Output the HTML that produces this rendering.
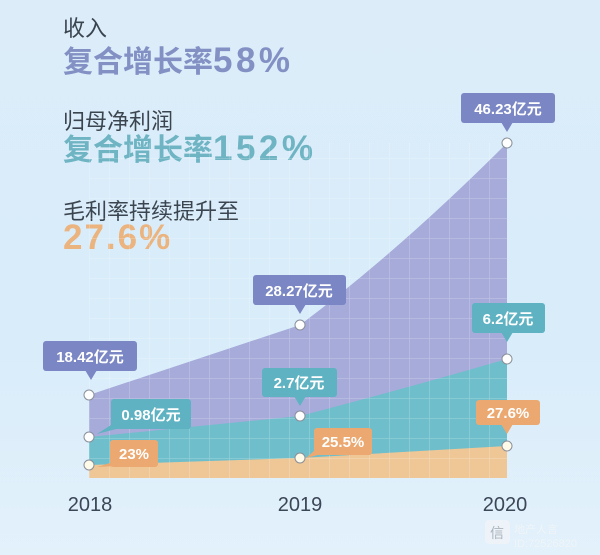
<!DOCTYPE html>
<html><head><meta charset="utf-8"><style>
html,body{margin:0;padding:0}
body{width:600px;height:555px;overflow:hidden;background:linear-gradient(180deg,#dcedf9 0%,#d8ecfa 60%,#e3f1fb 100%);font-family:"Liberation Sans","Noto Sans CJK SC",sans-serif;position:relative}
.t{position:absolute;left:63px;white-space:nowrap}
.s{font-size:22px;color:#3b4550}
.b{font-size:30px;font-weight:bold;line-height:36px}
.b span{font-size:35px;letter-spacing:3.5px}
</style></head><body>
<div class="t s" style="top:11px">收入</div>
<div class="t b" style="top:43px;color:#8290c4">复合增长率<span>58%</span></div>
<div class="t s" style="top:104px">归母净利润</div>
<div class="t b" style="top:131px;color:#6fb4c3">复合增长率<span>152%</span></div>
<div class="t s" style="top:194px">毛利率持续提升至</div>
<div class="t b" style="top:220px;color:#ebb47f"><span style="letter-spacing:2px">27.6%</span></div>
<svg width="600" height="555" style="position:absolute;left:0;top:0" font-family="Liberation Sans,Noto Sans CJK SC,sans-serif">
<defs>
<pattern id="g" x="89" y="478" width="20" height="20" patternUnits="userSpaceOnUse">
<path d="M0 0H20M0 0V20" stroke="#ffffff" stroke-opacity="0.35" stroke-width="1" fill="none"/>
</pattern>
</defs>
<path d="M89 395 L300 325 Q400 250 507 143 L507 478 L89 478Z" fill="#a6abda"/>
<path d="M89 437 L300 416 Q400 390 507 359 L507 478 L89 478Z" fill="#6fbecb"/>
<path d="M89 465 L300 458 L507 446 L507 478 L89 478Z" fill="#efc796"/>
<rect x="89" y="143" width="418" height="335" fill="url(#g)"/>
<g font-weight="bold" font-size="15" fill="#fff" text-anchor="middle">
<rect x="43" y="341" width="94" height="30" rx="3" fill="#7b87c4"/><path d="M85 370 L91 380 L97 370Z" fill="#7b87c4"/><text x="90" y="362">18.42亿元</text>
<rect x="253" y="275" width="93" height="30" rx="3" fill="#7b87c4"/><path d="M294 304 L300 314 L306 304Z" fill="#7b87c4"/><text x="299" y="296">28.27亿元</text>
<rect x="461" y="93" width="94" height="30" rx="3" fill="#7b87c4"/><path d="M501 122 L507 132 L513 122Z" fill="#7b87c4"/><text x="508" y="114">46.23亿元</text>
<rect x="111" y="399" width="80" height="30" rx="3" fill="#5fb2c2"/><path d="M111 425 L97 434 L120 428Z" fill="#5fb2c2"/><text x="151" y="420">0.98亿元</text>
<rect x="262" y="368" width="75" height="29" rx="3" fill="#5fb2c2"/><path d="M294 396 L300 406 L306 396Z" fill="#5fb2c2"/><text x="299" y="388">2.7亿元</text>
<rect x="472" y="303" width="73" height="30" rx="3" fill="#5fb2c2"/><path d="M501 332 L507 342 L513 332Z" fill="#5fb2c2"/><text x="508" y="324">6.2亿元</text>
<rect x="110" y="440" width="48" height="27" rx="3" fill="#eba971"/><path d="M110 463 L97 467 L118 466Z" fill="#eba971"/><text x="134" y="459">23%</text>
<rect x="314" y="428" width="58" height="27" rx="3" fill="#eba971"/><path d="M314 451 L306 458 L322 454Z" fill="#eba971"/><text x="343" y="447">25.5%</text>
<rect x="476" y="400" width="64" height="25" rx="3" fill="#eba971"/><path d="M501 424 L507 434 L513 424Z" fill="#eba971"/><text x="508" y="418">27.6%</text>
</g>
<g fill="#fff" stroke="#8a8f9a" stroke-width="1">
<circle cx="89" cy="395" r="5"/><circle cx="300" cy="325" r="5"/><circle cx="507" cy="143" r="5"/>
<circle cx="89" cy="437" r="5"/><circle cx="300" cy="416" r="5"/><circle cx="507" cy="359" r="5"/>
<circle cx="89" cy="465" r="5" fill="#fffbe8"/><circle cx="300" cy="458" r="5" fill="#fffbe8"/><circle cx="507" cy="446" r="5" fill="#fffbe8"/>
</g>
<g font-size="20" fill="#3b4656" text-anchor="middle">
<text x="90" y="511">2018</text><text x="300" y="511">2019</text><text x="505" y="511">2020</text>
</g>
<rect x="485" y="520" width="25" height="24" rx="4" fill="#eef3f7" opacity="0.9"/>
<text x="497" y="538" font-size="14" fill="#aab4bd" text-anchor="middle">信</text>
<text x="514" y="533" font-size="11" fill="#eef4f8">地产人言</text>
<text x="514" y="547" font-size="11" fill="#eef4f8">ID:72526820</text>
</svg>
</body></html>
